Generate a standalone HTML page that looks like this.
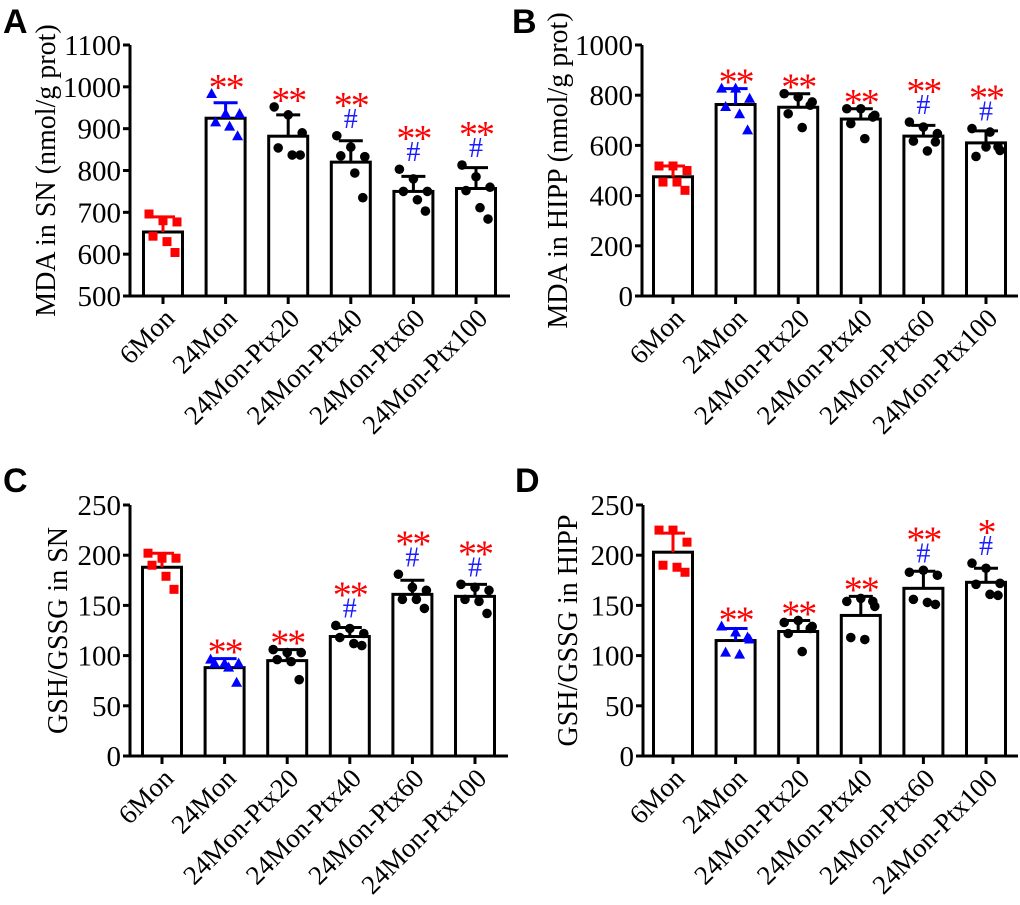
<!DOCTYPE html>
<html><head><meta charset="utf-8">
<style>
html,body{margin:0;padding:0;background:#fff;}
svg{display:block;}
text{font-family:"Liberation Serif",serif;}
.lbl{font-family:"Liberation Sans",sans-serif;font-weight:bold;font-size:34px;}
</style></head>
<body>
<svg id="fig" width="1020" height="905" viewBox="0 0 1020 905" xmlns="http://www.w3.org/2000/svg">
<text class="lbl" x="3" y="33">A</text>
<text class="lbl" x="512" y="33">B</text>
<text class="lbl" x="3" y="492">C</text>
<text class="lbl" x="515" y="492">D</text>
</svg>
<script>
const categories = ["6Mon","24Mon","24Mon-Ptx20","24Mon-Ptx40","24Mon-Ptx60","24Mon-Ptx100"];
const meansA = [653,925,882,820,750,757];
const errA = [689,962,933,871,786,807];
const ptsA = [[696,680,677,643,630,604],[983,935,935,915,905,882],[952,933,890,854,837,837],[883,856,833,835,794,735],[803,780,750,750,730,703],[813,785,760,752,711,684]];
const ticksA = [500,600,700,800,900,1000,1100];
const meansB = [475,763,752,705,637,610];
const errB = [518,826,806,746,680,658];
const ptsB = [[518,518,500,454,454,421],[826,826,786,753,724,660],[806,793,773,726,671,760],[746,746,720,687,627,713],[693,673,647,617,578,614],[667,594,580,556,653,594]];
const ticksB = [0,200,400,600,800,1000];
const meansC = [188,88,95,119,161,159];
const errC = [202,97,106,128,175,171];
const ptsC = [[202,197,197,190,179,166],[96,92,92,92,88,73],[106,103,103,96,94,76],[130,127,122,118,112,110],[181,168,165,156,156,147],[171,168,165,156,154,142]];
const ticksC = [0,50,100,150,200,250];
const meansD = [203,115,124,140,167,173];
const errD = [222,127,135,159,184,187];
const ptsD = [[225,225,213,190,188,183],[129,123,116,103,101,118],[133,135,129,122,104,127],[154,157,149,118,116,154],[183,185,180,156,153,151],[192,187,172,171,161,160]];
const ticksD = [0,50,100,150,200,250];
const starsA = ["","**","**","**","**","**"], hashA=[0,0,0,1,1,1];
const starsB = ["","**","**","**","**","**"], hashB=[0,0,0,0,1,1];
const starsC = ["","**","**","**","**","**"], hashC=[0,0,0,1,1,1];
const starsD = ["","**","**","**","**","*"], hashD=[0,0,0,0,1,1];

const NS="http://www.w3.org/2000/svg";
const svg=document.getElementById('fig');
function mk(tag,attrs,parent){const e=document.createElementNS(NS,tag);for(const k in attrs)e.setAttribute(k,attrs[k]);(parent||svg).appendChild(e);return e;}
const jit=[-14,0,14,-10,4,12];

function panel(o){
  const g=mk('g',{});
  
  
  const y=v=>o.y1-(v-o.vmin)/(o.vmax-o.vmin)*(o.y1-o.y0);
  const x=i=>o.cx0+i*62.6;
  o.means.forEach((m,i)=>{
    const r=mk('rect',{x:x(i)-19.5,y:y(m),width:39,height:o.y1-y(m),fill:'#fff',stroke:'#000','stroke-width':3},g);
    
    
  });
  o.pts.forEach((arr,i)=>{
    arr.forEach((v,j)=>{
      const px=x(i)+jit[j], py=y(v);
      let e;
      if(i===0) e=mk('rect',{x:px-4.5,y:py-4.5,width:9,height:9,fill:'#f00'},g);
      else if(i===1) e=mk('polygon',{points:`${px},${py-6} ${px-5.5},${py+4} ${px+5.5},${py+4}`,fill:'#00f'},g);
      else e=mk('circle',{cx:px,cy:py,r:4.8,fill:'#000'},g);
      
      
    });
  });
  o.err.forEach((v,i)=>{
    const c=i===0?'#f00':(i===1?'#00f':'#000');
    const e=mk('path',{d:`M${x(i)},${y(o.means[i])}V${y(v)}M${x(i)-12},${y(v)}H${x(i)+12}`,stroke:c,'stroke-width':3,fill:'none'},g);
    
    
  });
  o.stars.forEach((s,i)=>{
    if(!s)return;
    const top=Math.min(y(o.err[i]),y(Math.max(...o.pts[i])));
    const hy=top-8, sy=o.hash[i]?top-32:top-8;
    if(o.hash[i]){
      const h=mk('text',{x:x(i),y:hy,'text-anchor':'middle','font-size':28,fill:'#1a1aff'},g);
      h.textContent='#';
      
      
    }
    const t=mk('text',{x:x(i),y:sy+14,'text-anchor':'middle','font-size':38,'letter-spacing':'-2',fill:'#ff0000','font-family':'Liberation Sans, sans-serif'},g);
    t.textContent=s;
    
    
  });
  const ax=mk('path',{d:`M${o.ax},${o.y0}V${o.y1}M${o.ax-6},${o.y1}H${o.xend}`,stroke:'#000','stroke-width':3,fill:'none'},g);
  
  
  o.ticks.forEach(t=>{
    mk('line',{x1:o.ax-7,x2:o.ax,y1:y(t),y2:y(t),stroke:'#000','stroke-width':3},g);
    const tl=mk('text',{x:o.ax-9,y:y(t)+10,'text-anchor':'end','font-size':29},g);
    tl.textContent=t;
    
    
  });
  categories.forEach((c,i)=>{
    mk('line',{x1:x(i),x2:x(i),y1:o.y1,y2:o.y1+8,stroke:'#000','stroke-width':3},g);
    const tl=mk('text',{x:x(i)+13,y:o.y1+24,'text-anchor':'end','font-size':27,transform:`rotate(-45 ${x(i)+13} ${o.y1+24})`},g);
    tl.textContent=c;
    
    
  });
  const yt=mk('text',{x:o.tx,y:(o.y0+o.y1)/2,'text-anchor':'middle','font-size':28,transform:`rotate(-90 ${o.tx} ${(o.y0+o.y1)/2})`},g);
  yt.textContent=o.title;
  
  
}
panel({name:'panel-a',means:meansA,err:errA,pts:ptsA,ticks:ticksA,vmin:500,vmax:1100,y0:45,y1:296,ax:130,cx0:163,xend:510,stars:starsA,hash:hashA,title:'MDA in SN (nmol/g prot)',tx:55});
panel({name:'panel-b',means:meansB,err:errB,pts:ptsB,ticks:ticksB,vmin:0,vmax:1000,y0:45,y1:296,ax:642,cx0:673,xend:1018,stars:starsB,hash:hashB,title:'MDA in HIPP (nmol/g prot)',tx:567});
panel({name:'panel-c',means:meansC,err:errC,pts:ptsC,ticks:ticksC,vmin:0,vmax:250,y0:505,y1:756,ax:130,cx0:162,xend:508,stars:starsC,hash:hashC,title:'GSH/GSSG in SN',tx:67});
panel({name:'panel-d',means:meansD,err:errD,pts:ptsD,ticks:ticksD,vmin:0,vmax:250,y0:505,y1:756,ax:643,cx0:673,xend:1018,stars:starsD,hash:hashD,title:'GSH/GSSG in HIPP',tx:577});
</script>
</body></html>
